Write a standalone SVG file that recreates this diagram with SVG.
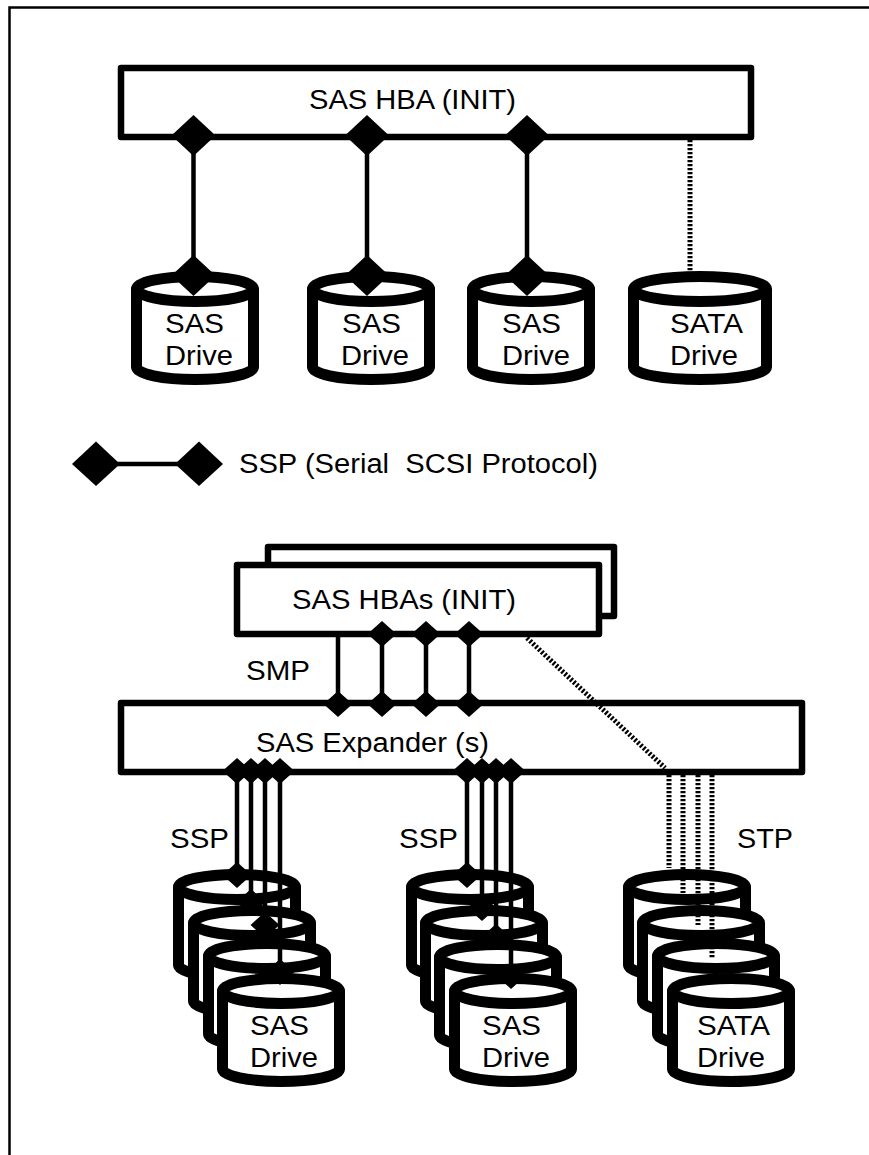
<svg xmlns="http://www.w3.org/2000/svg" width="869" height="1155" viewBox="0 0 869 1155">
<style>
text{font-family:"Liberation Sans",Arial,sans-serif;font-size:27px;fill:#000}
.box{fill:#fff;stroke:#000;stroke-width:6.5;stroke-linejoin:round}
.cyl{fill:#fff;stroke:#000;stroke-width:11;stroke-linejoin:round}
.ln{fill:none;stroke:#000;stroke-width:4.5}
.dot{fill:none;stroke:#000;stroke-width:5;stroke-dasharray:2.2 1.8}
</style>
<defs>
<polygon id="dl" points="-22,0 0,-20.5 22,0 0,20.5" fill="#000"/>
<polygon id="ds" points="-14.500,0 0,-13 14.500,0 0,13" fill="#000"/>
<g id="cy">
<path class="cyl" d="M5.500 18V96A58.500 12.500 0 0 0 122.500 96V18"/>
<ellipse class="cyl" cx="64" cy="18" rx="58.500" ry="12.500"/>
</g>
</defs>
<rect width="869" height="1155" fill="#fff"/>
<path id="frame" d="M9.500 1155V7.500H869" fill="none" stroke="#000" stroke-width="2.500"/>

<g id="hba-top"><rect class="box" x="121" y="68" width="630" height="69"/>
<text x="309" y="109" textLength="207" lengthAdjust="spacingAndGlyphs">SAS HBA (INIT)</text></g>

<g id="drive-a"><use href="#cy" x="131" y="271"/></g>
<g id="drive-b"><use href="#cy" x="307" y="271"/></g>
<g id="drive-c"><use href="#cy" x="467" y="271"/></g>
<g id="drive-d"><path class="cyl" d="M633.500 289V367A66.500 12.500 0 0 0 766.500 367V289"/><ellipse class="cyl" cx="700" cy="289" rx="66.500" ry="12.500"/></g>

<g id="hba-back"><rect class="box" x="268" y="547" width="346" height="69"/></g>
<g id="hba-front"><rect class="box" x="237" y="565" width="362" height="69"/>
<text x="292" y="609" textLength="224" lengthAdjust="spacingAndGlyphs">SAS HBAs (INIT)</text></g>
<g id="expander"><rect class="box" x="121" y="703" width="681" height="69"/>
<text x="256" y="752" textLength="233" lengthAdjust="spacingAndGlyphs">SAS Expander (s)</text></g>

<g id="stack-sas-1"><use href="#cy" x="173" y="869"/><use href="#cy" x="188" y="905"/><use href="#cy" x="203" y="938"/><use href="#cy" x="217" y="973"/></g>
<g id="stack-sas-2"><use href="#cy" x="406" y="869"/><use href="#cy" x="420" y="905"/><use href="#cy" x="434" y="939"/><use href="#cy" x="449" y="973"/></g>
<g id="stack-sata"><use href="#cy" x="623" y="869"/><use href="#cy" x="637" y="905"/><use href="#cy" x="652" y="938"/><use href="#cy" x="667" y="973"/></g>

<g id="connectors">
<path class="ln" d="M193.500 135V275M367 135V275M527 135V275"/>
<path class="dot" d="M690 140V271"/>
<path class="ln" d="M96 464H198"/>
<path class="ln" d="M338 637V704M382 634V704M426 634V704M469 634V704"/>
<path class="dot" d="M527 638L665 768"/>
<path class="dot" d="M669 775V868M683 775V893M698 775V925M712 775V958"/>
<path class="ln" d="M237 771V875M251 771V902M265 771V925M280 771V972"/>
<path class="ln" d="M467 771V875M482 771V908M496 771V937M511 771V976"/>
<use href="#dl" x="193.500" y="135.500"/><use href="#dl" x="367" y="135.500"/><use href="#dl" x="527" y="135.500"/>
<use href="#dl" x="193.500" y="275.500"/><use href="#dl" x="367" y="275.500"/><use href="#dl" x="527" y="275.500"/>
<polygon points="72,464 96,441.500 120,464 96,486" fill="#000"/><polygon points="175,464 199,441.500 223,464 199,486" fill="#000"/>
<use href="#ds" x="382" y="634"/><use href="#ds" x="426" y="634"/><use href="#ds" x="469" y="634"/>
<use href="#ds" x="338" y="704"/><use href="#ds" x="382" y="704"/><use href="#ds" x="426" y="704"/><use href="#ds" x="469" y="704"/>
<use href="#ds" x="237" y="771"/><use href="#ds" x="251" y="771"/><use href="#ds" x="265" y="771"/><use href="#ds" x="280" y="771"/>
<use href="#ds" x="467" y="771"/><use href="#ds" x="482" y="771"/><use href="#ds" x="496" y="771"/><use href="#ds" x="511" y="771"/>
<use href="#ds" x="237" y="875"/><use href="#ds" x="251" y="902"/><use href="#ds" x="265" y="925"/><use href="#ds" x="280" y="972"/>
<use href="#ds" x="467" y="875"/><use href="#ds" x="482" y="908"/><use href="#ds" x="496" y="937"/><use href="#ds" x="511" y="976"/>
</g>

<g id="labels">
<text x="165" y="333" textLength="59" lengthAdjust="spacingAndGlyphs">SAS</text><text x="165" y="365" textLength="68" lengthAdjust="spacingAndGlyphs">Drive</text>
<text x="342" y="333" textLength="59" lengthAdjust="spacingAndGlyphs">SAS</text><text x="341" y="365" textLength="68" lengthAdjust="spacingAndGlyphs">Drive</text>
<text x="502" y="333" textLength="59" lengthAdjust="spacingAndGlyphs">SAS</text><text x="502" y="365" textLength="68" lengthAdjust="spacingAndGlyphs">Drive</text>
<text x="670" y="333" textLength="73" lengthAdjust="spacingAndGlyphs">SATA</text><text x="670" y="365" textLength="68" lengthAdjust="spacingAndGlyphs">Drive</text>
<text x="239" y="473" textLength="359" lengthAdjust="spacingAndGlyphs" xml:space="preserve">SSP (Serial  SCSI Protocol)</text>
<text x="246" y="680" textLength="64" lengthAdjust="spacingAndGlyphs">SMP</text>
<text x="170" y="848" textLength="59" lengthAdjust="spacingAndGlyphs">SSP</text>
<text x="399" y="848" textLength="59" lengthAdjust="spacingAndGlyphs">SSP</text>
<text x="737" y="848" textLength="56" lengthAdjust="spacingAndGlyphs">STP</text>
<text x="250" y="1035" textLength="59" lengthAdjust="spacingAndGlyphs">SAS</text><text x="250" y="1067" textLength="68" lengthAdjust="spacingAndGlyphs">Drive</text>
<text x="482" y="1035" textLength="59" lengthAdjust="spacingAndGlyphs">SAS</text><text x="482" y="1067" textLength="68" lengthAdjust="spacingAndGlyphs">Drive</text>
<text x="697" y="1035" textLength="73" lengthAdjust="spacingAndGlyphs">SATA</text><text x="697" y="1067" textLength="68" lengthAdjust="spacingAndGlyphs">Drive</text>
</g>
</svg>
